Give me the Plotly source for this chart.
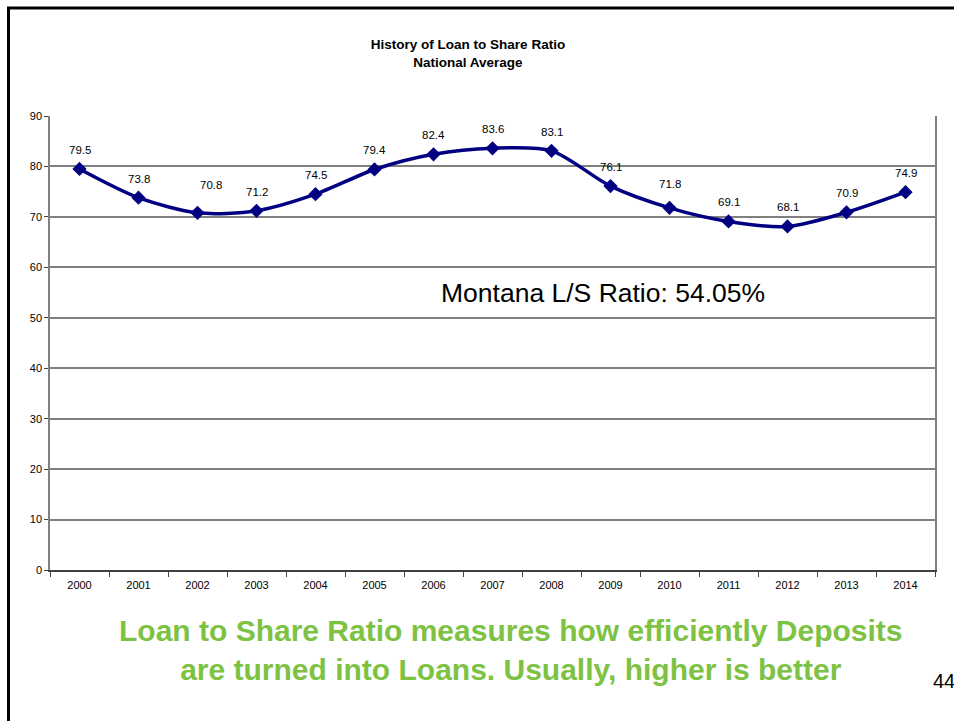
import plotly.graph_objects as go

years = ["2000", "2001", "2002", "2003", "2004", "2005", "2006", "2007",
         "2008", "2009", "2010", "2011", "2012", "2013", "2014"]
ratio = [79.5, 73.8, 70.8, 71.2, 74.5, 79.4, 82.4, 83.6,
         83.1, 76.1, 71.8, 69.1, 68.1, 70.9, 74.9]

W, H = 954, 721
L, R, T, B = 50, 19, 116, 151
pw, ph = W - L - R, H - T - B


def px(x):
    return (x - L) / pw


def py(y):
    return (H - B - y) / ph


fig = go.Figure()
fig.add_trace(go.Scatter(
    x=years, y=ratio,
    mode="lines+markers",
    line=dict(color="#000080", width=3.5, shape="spline", smoothing=0.8),
    marker=dict(symbol="diamond", size=11, color="#000080"),
    cliponaxis=False,
    showlegend=False,
))

# value labels sit above each point; a couple are nudged off the curve
label_shift = {"2002": (13, 28), "2010": (0, 24)}
value_labels = []
for i, (yr, v) in enumerate(zip(years, ratio)):
    dx, dy = label_shift.get(yr, (0, 19))
    value_labels.append(dict(
        x=i, y=v, xref="x", yref="y", text=f"{v:.1f}", showarrow=False,
        xshift=dx, yshift=dy, xanchor="center", yanchor="middle",
        font=dict(size=11.5, color="#000000"),
    ))

fig.update_layout(
    width=W, height=H,
    margin=dict(l=L, r=R, t=T, b=B),
    paper_bgcolor="white", plot_bgcolor="white",
    font=dict(family="Arial, Liberation Sans", color="#000000"),
    title=dict(
        text="<b>History of Loan to Share Ratio<br>National Average</b>",
        xref="container", x=468 / W, xanchor="center",
        yref="container", y=1 - 49 / H, yanchor="top",
        font=dict(size=13.5),
    ),
    xaxis=dict(
        type="category", range=[-0.5, 14.5],
        showgrid=False, showline=True, linecolor="#404040", linewidth=1.5,
        ticks="outside", tickson="boundaries", ticklen=5, tickcolor="#404040",
        ticklabelstandoff=4,
        tickfont=dict(size=11), fixedrange=True,
    ),
    yaxis=dict(
        range=[0, 90], dtick=10,
        showgrid=True, gridcolor="#808080", gridwidth=1.5,
        showline=True, linecolor="#808080", linewidth=1.5, mirror=True,
        ticks="outside", ticklen=4, tickcolor="#404040",
        tickfont=dict(size=11), zeroline=False, fixedrange=True,
    ),
    annotations=value_labels + [
        dict(text="Montana L/S Ratio: 54.05%", xref="paper", yref="paper",
             x=px(603), y=py(293), xanchor="center", yanchor="middle",
             showarrow=False, font=dict(size=26.5, color="#000000")),
        dict(text="<b>Loan to Share Ratio measures how efficiently Deposits<br>"
                  "are turned into Loans. Usually, higher is better</b>",
             xref="paper", yref="paper", x=px(511), y=py(650),
             xanchor="center", yanchor="middle", showarrow=False,
             font=dict(size=30, color="#7DC242"), align="center"),
        dict(text="44", xref="paper", yref="paper", x=px(931), y=py(681),
             xanchor="left", yanchor="middle", showarrow=False,
             font=dict(size=20, color="#000000")),
    ],
    shapes=[
        dict(type="line", xref="paper", yref="paper",
             x0=px(8.5), x1=px(8.5), y0=py(7), y1=py(H + 5),
             line=dict(color="black", width=3)),
        dict(type="line", xref="paper", yref="paper",
             x0=px(7), x1=px(W + 5), y0=py(8), y1=py(8),
             line=dict(color="black", width=3)),
    ],
)

fig.write_html("out.html")
